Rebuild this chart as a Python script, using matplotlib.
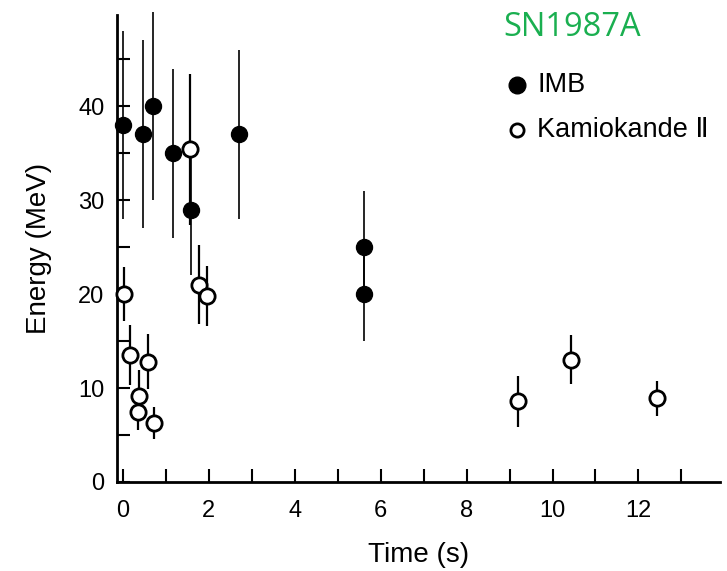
import matplotlib.pyplot as plt
from matplotlib.ticker import MultipleLocator

plt.rcParams['font.family'] = ['Liberation Sans', 'DejaVu Sans']

# IMB events (filled circles)
imb_t = [0.0, 0.47, 0.70, 1.16, 1.58, 2.70, 5.62, 5.62]
imb_e = [38, 37, 40, 35, 29, 37, 25, 20]
imb_err = [10, 10, 10, 9, 7, 9, 6, 5]

# Kamiokande II events (open circles)
kam_t = [0.02, 0.16, 0.35, 0.37, 0.58, 0.73, 1.56, 1.77, 1.95, 9.20, 10.44, 12.44]
kam_e = [20.0, 13.5, 7.5, 9.2, 12.8, 6.3, 35.4, 21.0, 19.8, 8.6, 13.0, 8.9]
kam_err = [2.9, 3.2, 2.0, 2.7, 2.9, 1.7, 8.0, 4.2, 3.2, 2.7, 2.6, 1.9]

fig = plt.figure(figsize=(7.27, 5.71), dpi=100)
ax = fig.add_axes([117/727, 1 - 482/571, 603/727, 467/571])

eb1 = ax.errorbar(imb_t, imb_e, yerr=imb_err, fmt='o', color='black', ms=11.5,
                  elinewidth=1.2, capsize=0, zorder=3)
eb2 = ax.errorbar(kam_t, kam_e, yerr=kam_err, fmt='o', color='black', mfc='white',
                  mec='black', mew=2, ms=11, elinewidth=1.6, capsize=0, zorder=4)
for eb in (eb1, eb2):
    for art in eb.lines[2]:
        art.set_clip_on(False)
    eb.lines[0].set_clip_on(False)

ax.set_xlim(-0.14, 13.9)
ax.set_ylim(0, 49.7)

ax.xaxis.set_major_locator(MultipleLocator(2))
ax.xaxis.set_minor_locator(MultipleLocator(1))
ax.yaxis.set_major_locator(MultipleLocator(10))
ax.yaxis.set_minor_locator(MultipleLocator(5))
ax.tick_params(which='both', direction='in', width=1.5, length=9.5, labelsize=17)
ax.tick_params(axis='x', which='both', pad=13)
ax.tick_params(axis='y', which='both', pad=9)

for s in ['top', 'right']:
    ax.spines[s].set_visible(False)
for s in ['left', 'bottom']:
    ax.spines[s].set_linewidth(2)

ax.set_xlabel('Time (s)', fontsize=20, labelpad=14)
ax.set_ylabel('Energy (MeV)', fontsize=20, labelpad=19)

# legend drawn by hand to match the original layout
ax.plot([0.663], [0.850], 'o', color='black', ms=12, transform=ax.transAxes, clip_on=False)
ax.plot([0.663], [0.754], 'o', mfc='white', mec='black', mew=2, ms=9.5,
        transform=ax.transAxes, clip_on=False)
ax.text(0.697, 0.850, 'IMB', fontsize=19.5, va='center', transform=ax.transAxes)
ax.text(0.697, 0.754, 'Kamiokande \u2161', fontsize=19.5, va='center', transform=ax.transAxes)

fig.text(572/727, 1 - 28/571, 'SN1987A', color='#1aaf50', fontsize=23.5,
         family='Open Sans', ha='center', va='center')

fig.savefig('out.png', dpi=100)
